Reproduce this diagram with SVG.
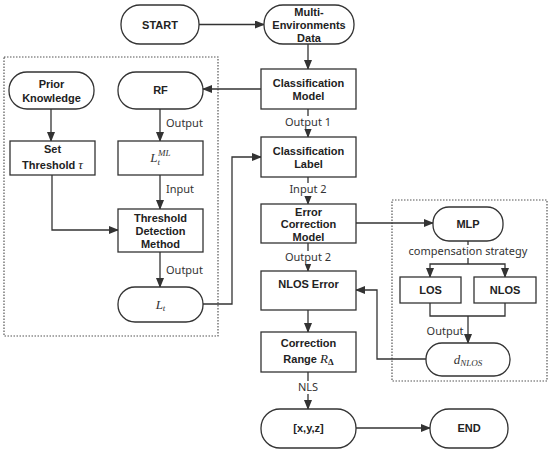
<svg xmlns="http://www.w3.org/2000/svg" width="550" height="452" viewBox="0 0 550 452">
<defs>
<marker id="ah" markerUnits="userSpaceOnUse" markerWidth="10" markerHeight="8" refX="9" refY="4" orient="auto">
<path d="M0,0 L10,4 L0,8 Z" fill="#333"/>
</marker>
<style>
.b{fill:#fff;stroke:#333;stroke-width:1.3}
.t{font-family:"Liberation Sans",Arial,sans-serif;font-weight:bold;font-size:11px;fill:#222;text-anchor:middle}
.l{font-family:"Noto Sans","Open Sans",sans-serif;font-size:11px;fill:#333;text-anchor:middle}
.ll{font-family:"Noto Sans","Open Sans",sans-serif;font-size:11px;fill:#333;text-anchor:start}
.m{font-family:"Liberation Serif",serif;font-style:italic;fill:#333;text-anchor:middle}
.c{fill:none;stroke:#333;stroke-width:1.3}
.a{fill:none;stroke:#333;stroke-width:1.3;marker-end:url(#ah)}
.d{fill:none;stroke:#555;stroke-width:1.2;stroke-dasharray:1.5,1.5}
</style>
</defs>
<rect class="d" x="4" y="57" width="214" height="279"/>
<rect class="d" x="392" y="200" width="155" height="181"/>
<g id="connectors">
<line class="a" x1="199" y1="24.5" x2="264" y2="24.5"/>
<line class="a" x1="308" y1="44" x2="308" y2="69"/>
<line class="a" x1="261" y1="89" x2="203" y2="89"/>
<line class="a" x1="308" y1="109" x2="308" y2="137"/>
<line class="a" x1="308" y1="177" x2="308" y2="204"/>
<line class="a" x1="308" y1="243" x2="308" y2="271"/>
<line class="a" x1="308" y1="310" x2="308" y2="332"/>
<line class="a" x1="308" y1="372" x2="308" y2="409"/>
<line class="a" x1="356" y1="428" x2="430" y2="428"/>
<line class="a" x1="51" y1="109" x2="51" y2="141"/>
<line class="a" x1="160" y1="109" x2="160" y2="141"/>
<line class="a" x1="160" y1="175" x2="160" y2="209"/>
<polyline class="a" points="52,175 52,230 118,230"/>
<line class="a" x1="160" y1="252" x2="160" y2="287"/>
<polyline class="a" points="203,304 232,304 232,157 261,157"/>
<line class="a" x1="356" y1="223" x2="433" y2="223"/>
<line class="c" x1="468" y1="241" x2="468" y2="264"/>
<polyline class="a" points="468,264 430,264 430,277"/>
<polyline class="a" points="468,264 505,264 505,277"/>
<polyline class="c" points="430,303 430,316 505,316 505,303"/>
<line class="a" x1="468" y1="316" x2="468" y2="343"/>
<polyline class="a" points="426,359 377,359 377,290 356,290"/>
</g>
<g id="labels">
<rect x="285" y="116" width="46" height="13" fill="#fff"/>
<text class="l" x="308" y="126">Output 1</text>
<rect x="288" y="183" width="40" height="13" fill="#fff"/>
<text class="l" x="308" y="193">Input 2</text>
<rect x="285" y="251" width="46" height="13" fill="#fff"/>
<text class="l" x="308" y="261">Output 2</text>
<rect x="296" y="381" width="24" height="13" fill="#fff"/>
<text class="l" x="308" y="391">NLS</text>
<text class="ll" x="166" y="127">Output</text>
<text class="ll" x="166" y="193">Input</text>
<text class="ll" x="166" y="274">Output</text>
<rect x="410" y="245" width="116" height="13" fill="#fff"/>
<text class="l" x="468" y="255">compensation strategy</text>
<text class="l" x="445" y="335">Output</text>
</g>
<g id="start"><rect class="b" x="121" y="5" width="78" height="39" rx="19"/><text class="t" x="160" y="28.5">START</text></g>
<g id="multi"><rect class="b" x="264" y="5" width="90" height="39" rx="19"/><text class="t" x="309" y="16">Multi-</text><text class="t" x="309" y="29">Environments</text><text class="t" x="309" y="41.5">Data</text></g>
<g id="classmodel"><rect class="b" x="261" y="69" width="95" height="40"/><text class="t" x="308.5" y="87">Classification</text><text class="t" x="308.5" y="100">Model</text></g>
<g id="prior"><rect class="b" x="9" y="72" width="85" height="37" rx="18"/><text class="t" x="51.5" y="88">Prior</text><text class="t" x="51.5" y="102">Knowledge</text></g>
<g id="rf"><rect class="b" x="118" y="72" width="85" height="37" rx="18"/><text class="t" x="160.5" y="94">RF</text></g>
<g id="setthr"><rect class="b" x="10" y="141" width="85" height="34"/><text class="t" x="52.5" y="153">Set</text><text class="t" x="52.5" y="169">Threshold <tspan font-family="Liberation Serif,serif" font-style="italic" font-weight="normal" font-size="13">τ</tspan></text></g>
<g id="ltml"><rect class="b" x="118" y="141" width="85" height="34"/><text class="m" x="160.5" y="162" font-size="13">L<tspan font-size="9" dy="3">t</tspan><tspan font-size="9" dy="-9" dx="-2">ML</tspan></text></g>
<g id="tdm"><rect class="b" x="118" y="209" width="85" height="43"/><text class="t" x="160.5" y="222">Threshold</text><text class="t" x="160.5" y="235">Detection</text><text class="t" x="160.5" y="248">Method</text></g>
<g id="lt"><rect class="b" x="118" y="287" width="85" height="35" rx="17"/><text class="m" x="160.5" y="309" font-size="13">L<tspan font-size="9" dy="2">t</tspan></text></g>
<g id="classlabel"><rect class="b" x="261" y="137" width="95" height="40"/><text class="t" x="308.5" y="155">Classification</text><text class="t" x="308.5" y="168">Label</text></g>
<g id="ecm"><rect class="b" x="261" y="204" width="95" height="39"/><text class="t" x="308.5" y="215.5">Error</text><text class="t" x="308.5" y="228">Correction</text><text class="t" x="308.5" y="240.5">Model</text></g>
<g id="nloserr"><rect class="b" x="261" y="271" width="95" height="39"/><text class="t" x="308.5" y="288">NLOS Error</text></g>
<g id="corr"><rect class="b" x="261" y="332" width="95" height="40"/><text class="t" x="308.5" y="347">Correction</text><text class="t" x="308.5" y="363">Range <tspan font-family="Liberation Serif,serif" font-style="italic" font-weight="normal" font-size="13">R</tspan><tspan font-family="Liberation Serif,serif" font-size="9" dy="2">Δ</tspan></text></g>
<g id="xyz"><rect class="b" x="261" y="409" width="95" height="39" rx="19"/><text class="t" x="308.5" y="432">[x,y,z]</text></g>
<g id="end"><rect class="b" x="430" y="409" width="78" height="39" rx="19"/><text class="t" x="469" y="432">END</text></g>
<g id="mlp"><rect class="b" x="433" y="207" width="70" height="34" rx="16"/><text class="t" x="468" y="228">MLP</text></g>
<g id="los"><rect class="b" x="400" y="277" width="61" height="26"/><text class="t" x="430.5" y="294">LOS</text></g>
<g id="nlos"><rect class="b" x="474" y="277" width="62" height="26"/><text class="t" x="505" y="294">NLOS</text></g>
<g id="dnlos"><rect class="b" x="426" y="343" width="84" height="33" rx="16"/><text class="m" x="468" y="364" font-size="13">d<tspan font-size="9" dy="2">NLOS</tspan></text></g>
</svg>
